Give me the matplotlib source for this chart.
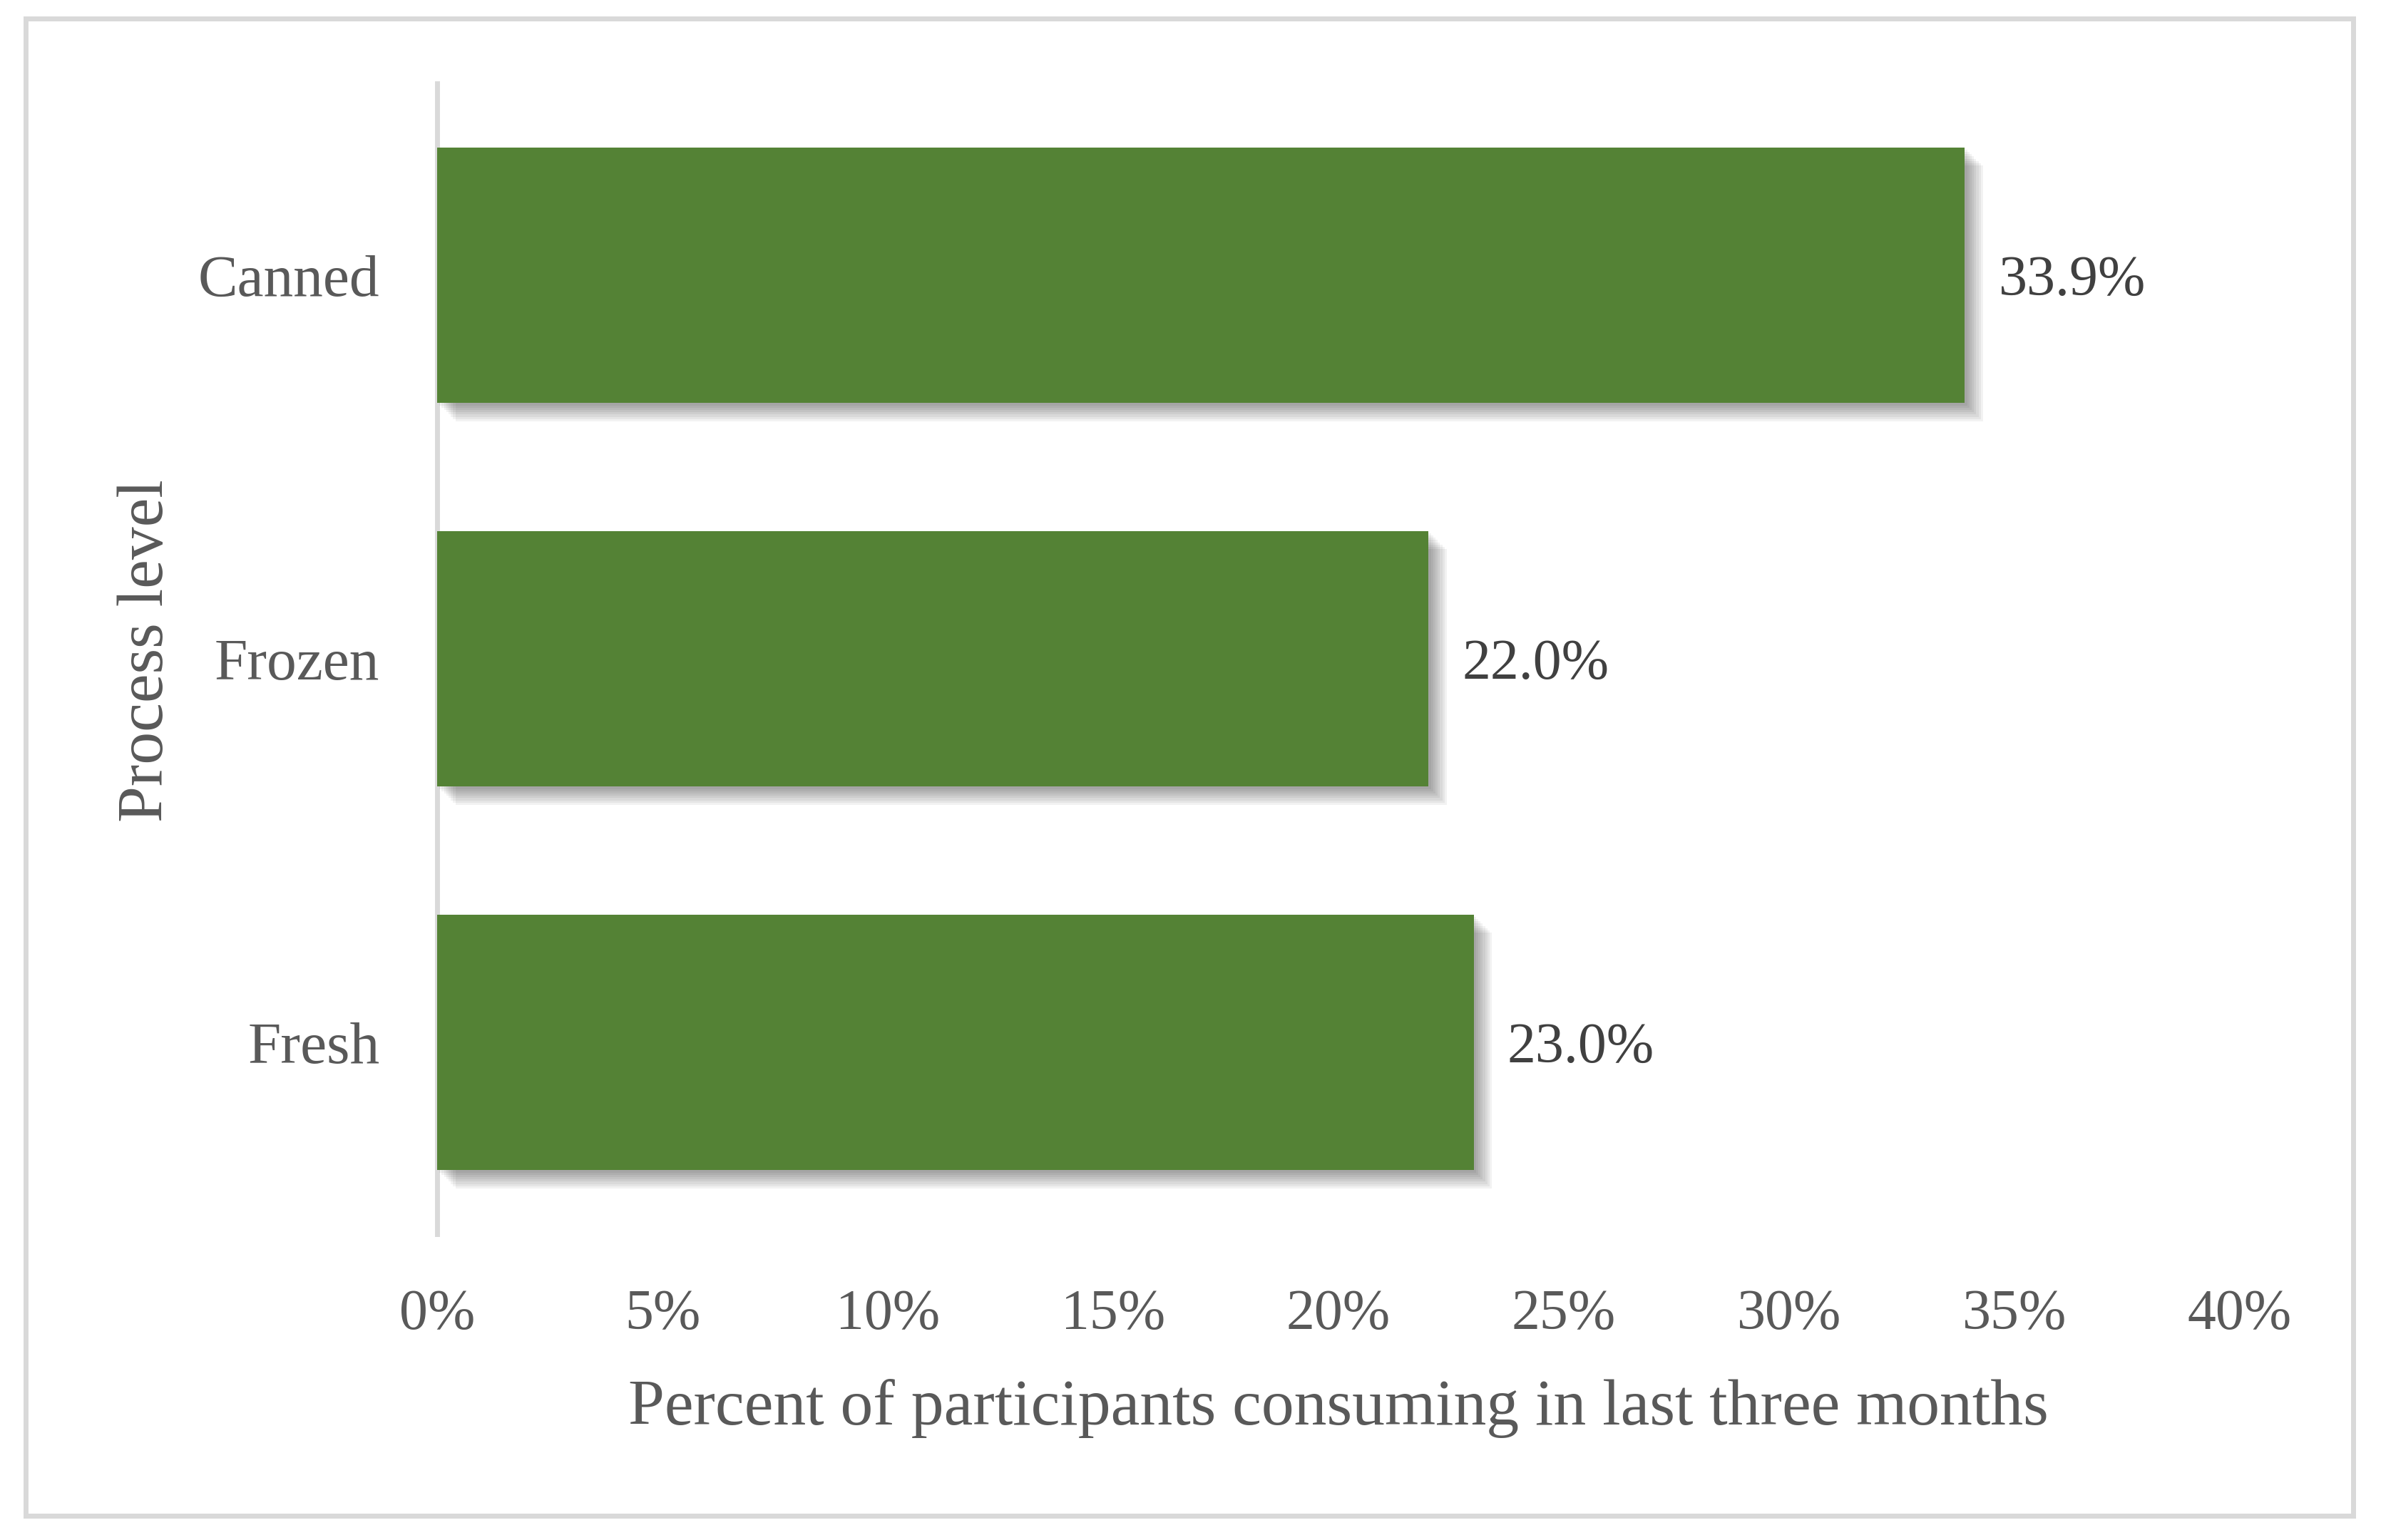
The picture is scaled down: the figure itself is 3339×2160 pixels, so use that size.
import numpy as np
import matplotlib
matplotlib.use('Agg')
import matplotlib.pyplot as plt
import matplotlib.patheffects as pe
from matplotlib.patches import Rectangle

# data
categories = ['Fresh', 'Frozen', 'Canned']
values = [23.0, 22.0, 33.9]
xticks = [0, 5, 10, 15, 20, 25, 30, 35, 40]
xtick_labels = ['0%', '5%', '10%', '15%', '20%', '25%', '30%', '35%', '40%']

plt.rcParams['font.family'] = ['Liberation Serif', 'DejaVu Serif']

fig = plt.figure(figsize=(33.39, 21.6), dpi=100)
ax = fig.add_axes([0.1836, 0.1986, 0.7571, 0.7472])

# soft shadow, bottom right, built from a few offset layers
shadow = []
for d in [3.2, 6.4, 9.6, 12.8, 16.0, 19.2, 22.4, 25.6]:
    shadow.append(pe.SimplePatchShadow(offset=(d * 0.72, -d * 0.72), shadow_rgbFace='black', alpha=0.05))
shadow.append(pe.Normal())

y = np.arange(len(categories))
bars = ax.barh(y, values, height=0.667, color='#548235', zorder=3)
for b in bars:
    b.set_path_effects(shadow)

for yi, v in zip(y, values):
    ax.annotate('%.1f%%' % v, xy=(v, yi), xytext=(34, 0), textcoords='offset points',
                ha='left', va='center_baseline', fontsize=57.5, color='#404040')

ax.set_xlim(0, 40)
ax.set_ylim(-0.5, 2.5)
ax.set_xticks(xticks)
ax.set_xticklabels(xtick_labels)
ax.set_yticks(y)
ax.set_yticklabels(categories)
ax.tick_params(axis='x', length=0, pad=55, labelsize=57.5, labelcolor='#595959')
ax.tick_params(axis='y', length=0, pad=58, labelsize=60, labelcolor='#595959')

for s in ['top', 'right', 'bottom']:
    ax.spines[s].set_visible(False)
ax.spines['left'].set_color('#d9d9d9')
ax.spines['left'].set_linewidth(5)

ax.set_xlabel('Percent of participants consuming in last three months', fontsize=66, color='#595959')
ax.xaxis.set_label_coords(0.5, -0.126)
ax.set_ylabel('Process level', fontsize=66, color='#595959')
ax.yaxis.set_label_coords(-0.1448, 0.507)

# outer chart border
fig.patches.append(Rectangle((35.5 / 3339, 1 - 2125.5 / 2160), 3264 / 3339, 2100 / 2160,
                             transform=fig.transFigure, fill=False, edgecolor='#d9d9d9', linewidth=5))

fig.savefig('out.png', dpi=100, facecolor='white')
